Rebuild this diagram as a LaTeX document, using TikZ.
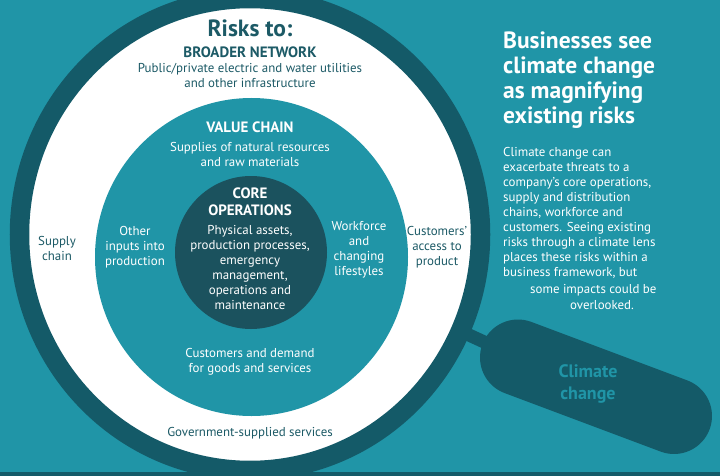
\documentclass[tikz,border=0pt]{standalone}
\usepackage{fontspec}
\setmainfont{PT Sans}
\definecolor{lensteal}{RGB}{32,149,167}
\definecolor{ringdark}{RGB}{20,90,104}
\definecolor{coredark}{RGB}{27,82,94}
\definecolor{inktext}{RGB}{28,90,102}

\begin{document}
\begin{tikzpicture}[x=1pt, y=-1pt,
    every node/.style={inner sep=0pt},
    ringtext/.style={text=inktext, align=center, font=\fontsize{12.9}{15}\selectfont},
    disktext/.style={text=white, align=center, font=\fontsize{12.9}{15}\selectfont},
    ringhead/.style={text=inktext, font=\fontsize{15}{17}\selectfont\bfseries},
    diskhead/.style={text=white, align=center, font=\fontsize{15}{17}\selectfont\bfseries},
    sidetext/.style={text=white, align=left, anchor=west, font=\fontsize{12.9}{15}\selectfont}]

    \useasboundingbox (0,0) rectangle (720,476);
    \clip (0,0) rectangle (720,476);
    \fill[lensteal] (0,0) rectangle (720,476);

    % handle of the lens
    \coordinate (lens) at (250,234.5);
    \coordinate (gripa) at (518,357.5);
    \coordinate (gripb) at (674,416);
    \draw[ringdark, line width=13pt] (lens) -- (gripa);
    \draw[ringdark, line width=76pt, line cap=round] (gripa) -- (gripb);
    \node[text=lensteal, align=center, font=\fontsize{18}{22}\selectfont\bfseries] (climate) at (588,384) {Climate\\change};

    % lens
    \draw[ringdark, line width=19.5pt, fill=white] (lens) ellipse[x radius=230.5, y radius=236];
    \fill[lensteal] (251.5,257) ellipse[x radius=156.5, y radius=159];
    \fill[coredark] (251,252.5) ellipse[x radius=76, y radius=76.5];
    \fill[ringdark] (0,472) rectangle (720,476);

    \node[text=inktext, font=\fontsize{23.5}{26}\selectfont\bfseries] (risks) at (250,28) {Risks to:};
    \node[ringhead] (broad) at (250,52) {BROADER NETWORK};
    \node[ringtext] (broadtxt) at (250,75) {Public/private electric and water utilities\\and other infrastructure};
    \node[diskhead] (value) at (250,127) {VALUE CHAIN};
    \node[disktext] (valuetxt) at (250,154.5) {Supplies of natural resources\\and raw materials};
    \node[diskhead] (core) at (250,201.5) {CORE\\OPERATIONS};
    \node[disktext] (coretxt) at (250,268) {Physical assets,\\production processes,\\emergency\\management,\\operations and\\maintenance};
    \node[disktext] (inputs) at (135,247.5) {Other\\inputs into\\production};
    \node[disktext] (work) at (359,249.5) {Workforce\\and\\changing\\lifestyles};
    \node[ringtext] (supply) at (57,248) {Supply\\chain};
    \node[ringtext] (access) at (437,247.5) {Customers'\\access to\\product};
    \node[disktext] (demand) at (250,361.5) {Customers and demand\\for goods and services};
    \node[ringtext] (gov) at (250,433) {Government-supplied services};

    \node[sidetext, font=\fontsize{23.5}{25}\selectfont\bfseries] (title) at (503,80) {Businesses see\\climate change\\as magnifying\\existing risks};
    \node[sidetext] (body) at (503,213) {Climate change can\\exacerbate threats to a\\company's core operations,\\supply and distribution\\chains, workforce and\\customers. Seeing existing\\risks through a climate lens\\places these risks within a\\business framework, but};
    \node[sidetext] (bodyend) at (530,290) {some impacts could be};
    \node[sidetext] (bodylast) at (570,305) {overlooked.};
\end{tikzpicture}
\end{document}
